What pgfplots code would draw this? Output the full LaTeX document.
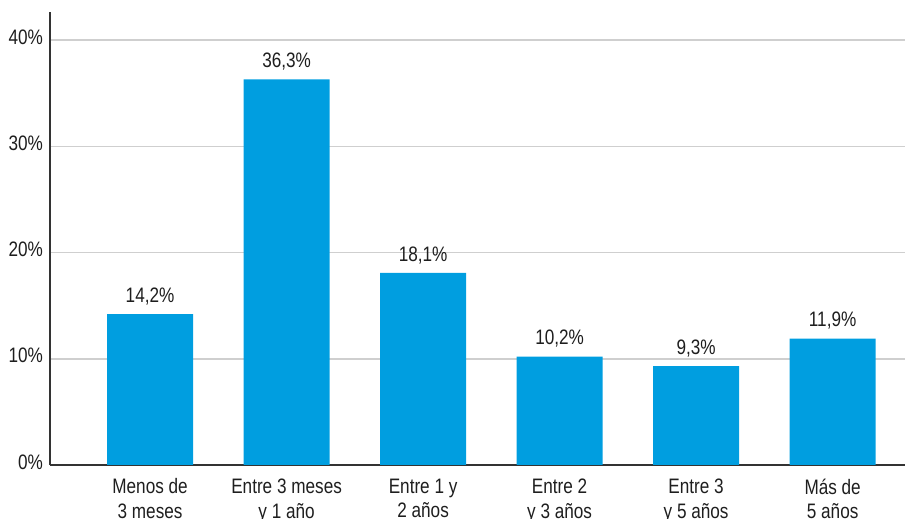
\documentclass[border=0pt]{standalone}
\usepackage{pgfplots}
\pgfplotsset{compat=1.18}
\usepackage{fontspec}
\setmainfont{Liberation Sans}[FakeStretch=0.82]
\definecolor{barblue}{HTML}{009EE0}
\definecolor{txt}{HTML}{1E1E1E}
\definecolor{gridgray}{HTML}{CFCFCF}
\definecolor{axisgray}{HTML}{333333}

\begin{document}
\begin{tikzpicture}
\useasboundingbox (-25bp,-27bp) rectangle (427.5bp,232.5bp);
\begin{axis}[
  scale only axis,
  width=427.5bp, height=226.5bp,
  at={(0,0)}, anchor=south west,
  xmin=-0.733, xmax=5.53,
  ymin=0, ymax=42.65,
  axis lines=left,
  axis line style={-, axisgray, line width=0.8bp},
  major tick length=0pt,
  ytick={0,10,20,30,40},
  yticklabel={\pgfmathprintnumber{\tick}\%},
  yticklabel style={anchor=base east, yshift=-2bp, font=\fontsize{10.5}{12.5}\selectfont, text=txt},
  xtick={0,1,2,3,4,5},
  xticklabels={{Menos de\\3 meses},{Entre 3 meses\\y 1 año},{Entre 1 y\\2 años},{Entre 2\\y 3 años},{Entre 3\\y 5 años},{Más de\\5 años}},
  xticklabel style={align=center, font=\fontsize{10.5}{12.5}\selectfont, text=txt, yshift=-3.3bp},
  ymajorgrids,
  grid style={gridgray, line width=0.8bp},
  /pgf/number format/assume math mode=true,
  ybar, bar width=43bp,
  nodes near coords={\pgfmathprintnumber[fixed,fixed zerofill,precision=1,use comma]{\pgfplotspointmeta}\%},
  nodes near coords style={font=\fontsize{10.5}{12.5}\selectfont, text=txt, yshift=1bp},
]
\addplot[fill=barblue, draw=none] coordinates {
  (0,14.2) (1,36.3) (2,18.1) (3,10.2) (4,9.3) (5,11.9)
};
\end{axis}
\end{tikzpicture}
\end{document}
